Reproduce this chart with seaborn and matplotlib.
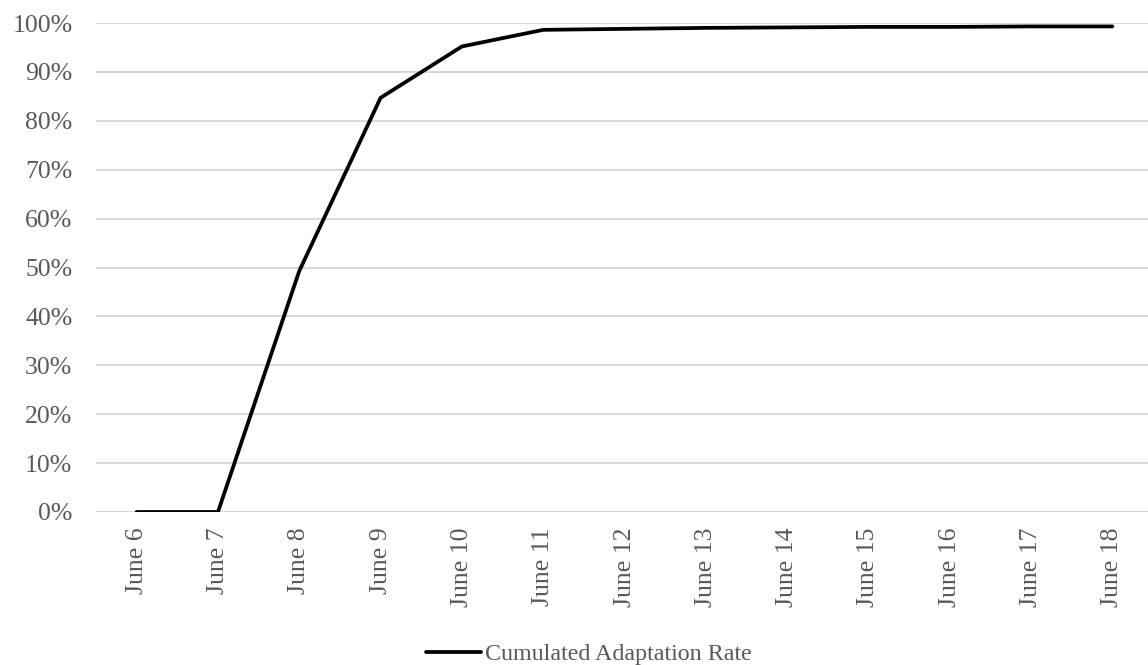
import pandas as pd
import seaborn as sns
import matplotlib.pyplot as plt
from matplotlib.ticker import PercentFormatter

# data
DAYS = ["June 6", "June 7", "June 8", "June 9", "June 10", "June 11", "June 12",
        "June 13", "June 14", "June 15", "June 16", "June 17", "June 18"]
RATE = [0.0, 0.0, 0.493, 0.847, 0.952, 0.986, 0.988, 0.990, 0.991, 0.992, 0.992, 0.993, 0.993]
SERIES = "Cumulated Adaptation Rate"

TEXT_COLOR = "#595959"
GRID_COLOR = "#d9d9d9"

sns.set_theme(style="white")
plt.rcParams['font.family'] = ['Liberation Serif', 'DejaVu Serif']

df = pd.DataFrame({'Day': DAYS, 'Rate': RATE, 'Series': SERIES})

fig = plt.figure(figsize=(11.48, 6.65), dpi=100)
ax = fig.add_axes([96 / 1148, 153 / 665, (1153 - 96) / 1148, (512 - 23) / 665])

sns.lineplot(data=df, x='Day', y='Rate', hue='Series', palette=['black'],
             linewidth=2.7, sort=False, ax=ax, legend=True)

ax.set_xlim(-0.5, len(DAYS) - 0.5)
ax.set_ylim(0, 1)
ax.set_yticks([i / 10 for i in range(11)])
ax.yaxis.set_major_formatter(PercentFormatter(1.0, decimals=0))
ax.grid(axis='y', color=GRID_COLOR, linewidth=1.5)
ax.set_axisbelow(True)
for s in ax.spines.values():
    s.set_visible(False)

ax.tick_params(axis='x', length=0, pad=11, labelsize=18.5, labelcolor=TEXT_COLOR, rotation=90)
ax.tick_params(axis='y', length=0, pad=17, labelsize=18.5, labelcolor=TEXT_COLOR)
ax.set_xlabel("")
ax.set_ylabel("")

handles, labels = ax.get_legend_handles_labels()
ax.legend_.remove()
leg = fig.legend(handles, labels, loc='center', bbox_to_anchor=(0.513, 0.016),
                 frameon=False, fontsize=17.3, handlelength=2.25, handletextpad=0.17,
                 borderaxespad=0, borderpad=0)
for t in leg.get_texts():
    t.set_color(TEXT_COLOR)

plt.savefig("out.png", dpi=100)
plt.close()
